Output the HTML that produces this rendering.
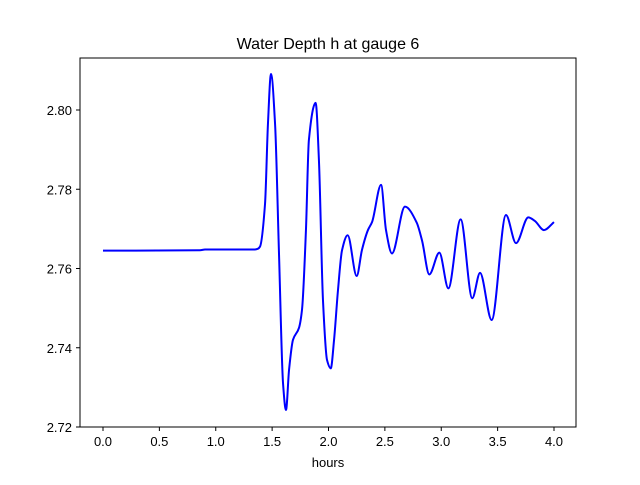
<!DOCTYPE html>
<html><head><meta charset="utf-8"><style>
body{margin:0;background:#fff;}
svg text{font-family:"Liberation Sans","DejaVu Sans",sans-serif;fill:#000;}
</style></head><body>
<svg width="640" height="480" xmlns="http://www.w3.org/2000/svg">
<rect width="640" height="480" fill="#fff"/>
<text x="328" y="49" font-size="16" text-anchor="middle">Water Depth h at gauge 6</text>
<g id="plot"></g>
<rect x="80" y="58" width="496" height="369" fill="none" stroke="#000" stroke-width="1"/>
<g id="xt"></g><g id="yt"></g>
<text x="328" y="467" font-size="13" text-anchor="middle">hours</text>
</svg>
<script>
const hours=[0,0.86,0.905,1.348,1.375,1.392,1.437,1.463,1.490,1.526,1.561,1.597,1.623,1.650,1.685,1.738,1.765,1.800,1.826,1.886,1.915,1.951,1.987,2.020,2.049,2.084,2.120,2.170,2.250,2.297,2.350,2.386,2.466,2.510,2.563,2.678,2.782,2.830,2.894,2.983,3.063,3.172,3.275,3.344,3.447,3.574,3.663,3.772,3.83,3.911,4.0];
const depth=[2.7645,2.7646,2.7648,2.7648,2.765,2.7655,2.7763,2.7965,2.8091,2.7965,2.7637,2.7309,2.7243,2.7344,2.742,2.745,2.7496,2.7697,2.7924,2.8018,2.7874,2.752,2.7369,2.7348,2.7419,2.7545,2.7646,2.7684,2.7581,2.7647,2.7697,2.7717,2.7811,2.7697,2.7638,2.7756,2.7716,2.767,2.7585,2.764,2.755,2.7724,2.7525,2.7589,2.747,2.7735,2.7664,2.7729,2.772,2.7697,2.7717];
const xTicks=[0,0.5,1,1.5,2,2.5,3,3.5,4];
const xTickLabels=["0.0","0.5","1.0","1.5","2.0","2.5","3.0","3.5","4.0"];
const yTicks=[2.72,2.74,2.76,2.78,2.80];
const yTickLabels=["2.72","2.74","2.76","2.78","2.80"];
const NS="http://www.w3.org/2000/svg";
const X=v=>103+v*112.75, Y=v=>427-(v-2.72)*3962.5;
// PCHIP interpolation in data space
const n=hours.length, h=[], del=[], m=new Array(n).fill(0);
for(let i=0;i<n-1;i++){h[i]=hours[i+1]-hours[i];del[i]=(depth[i+1]-depth[i])/h[i];}
m[0]=del[0];m[n-1]=del[n-2];
for(let i=1;i<n-1;i++){
 if(del[i-1]*del[i]<=0) m[i]=0;
 else{const w1=2*h[i]+h[i-1],w2=h[i]+2*h[i-1];m[i]=(w1+w2)/(w1/del[i-1]+w2/del[i]);}
}
let d="";
for(let i=0;i<n-1;i++){
 const x0=X(hours[i]),x1=X(hours[i+1]);
 const y0=Y(depth[i]),y1=Y(depth[i+1]);
 const s=-3962.5/112.75;
 const dx=(x1-x0)/3;
 if(i===0)d+="M"+x0+","+y0;
 d+=" C"+(x0+dx)+","+(y0+m[i]*s*dx)+" "+(x1-dx)+","+(y1-m[i+1]*s*dx)+" "+x1+","+y1;
}
const path=document.createElementNS(NS,"path");
path.setAttribute("d",d);path.setAttribute("fill","none");path.setAttribute("stroke","#0000ff");path.setAttribute("stroke-width","2");path.setAttribute("stroke-linejoin","round");


document.getElementById("plot").appendChild(path);
const xt=document.getElementById("xt");
xTicks.forEach((v,i)=>{
 const l=document.createElementNS(NS,"line");
 l.setAttribute("x1",X(v));l.setAttribute("x2",X(v));l.setAttribute("y1",427);l.setAttribute("y2",431);l.setAttribute("stroke","#000");
 
 
 xt.appendChild(l);
 const t=document.createElementNS(NS,"text");
 t.setAttribute("x",X(v));t.setAttribute("y",446);t.setAttribute("font-size","13");t.setAttribute("text-anchor","middle");t.textContent=xTickLabels[i];
 
 
 xt.appendChild(t);
});
const yt=document.getElementById("yt");
yTicks.forEach((v,i)=>{
 const l=document.createElementNS(NS,"line");
 l.setAttribute("x1",76);l.setAttribute("x2",80);l.setAttribute("y1",Y(v));l.setAttribute("y2",Y(v));l.setAttribute("stroke","#000");
 
 
 yt.appendChild(l);
 const t=document.createElementNS(NS,"text");
 t.setAttribute("x",72);t.setAttribute("y",Y(v)+5);t.setAttribute("font-size","13");t.setAttribute("text-anchor","end");t.textContent=yTickLabels[i];
 
 
 yt.appendChild(t);
});
</script>
</body></html>
